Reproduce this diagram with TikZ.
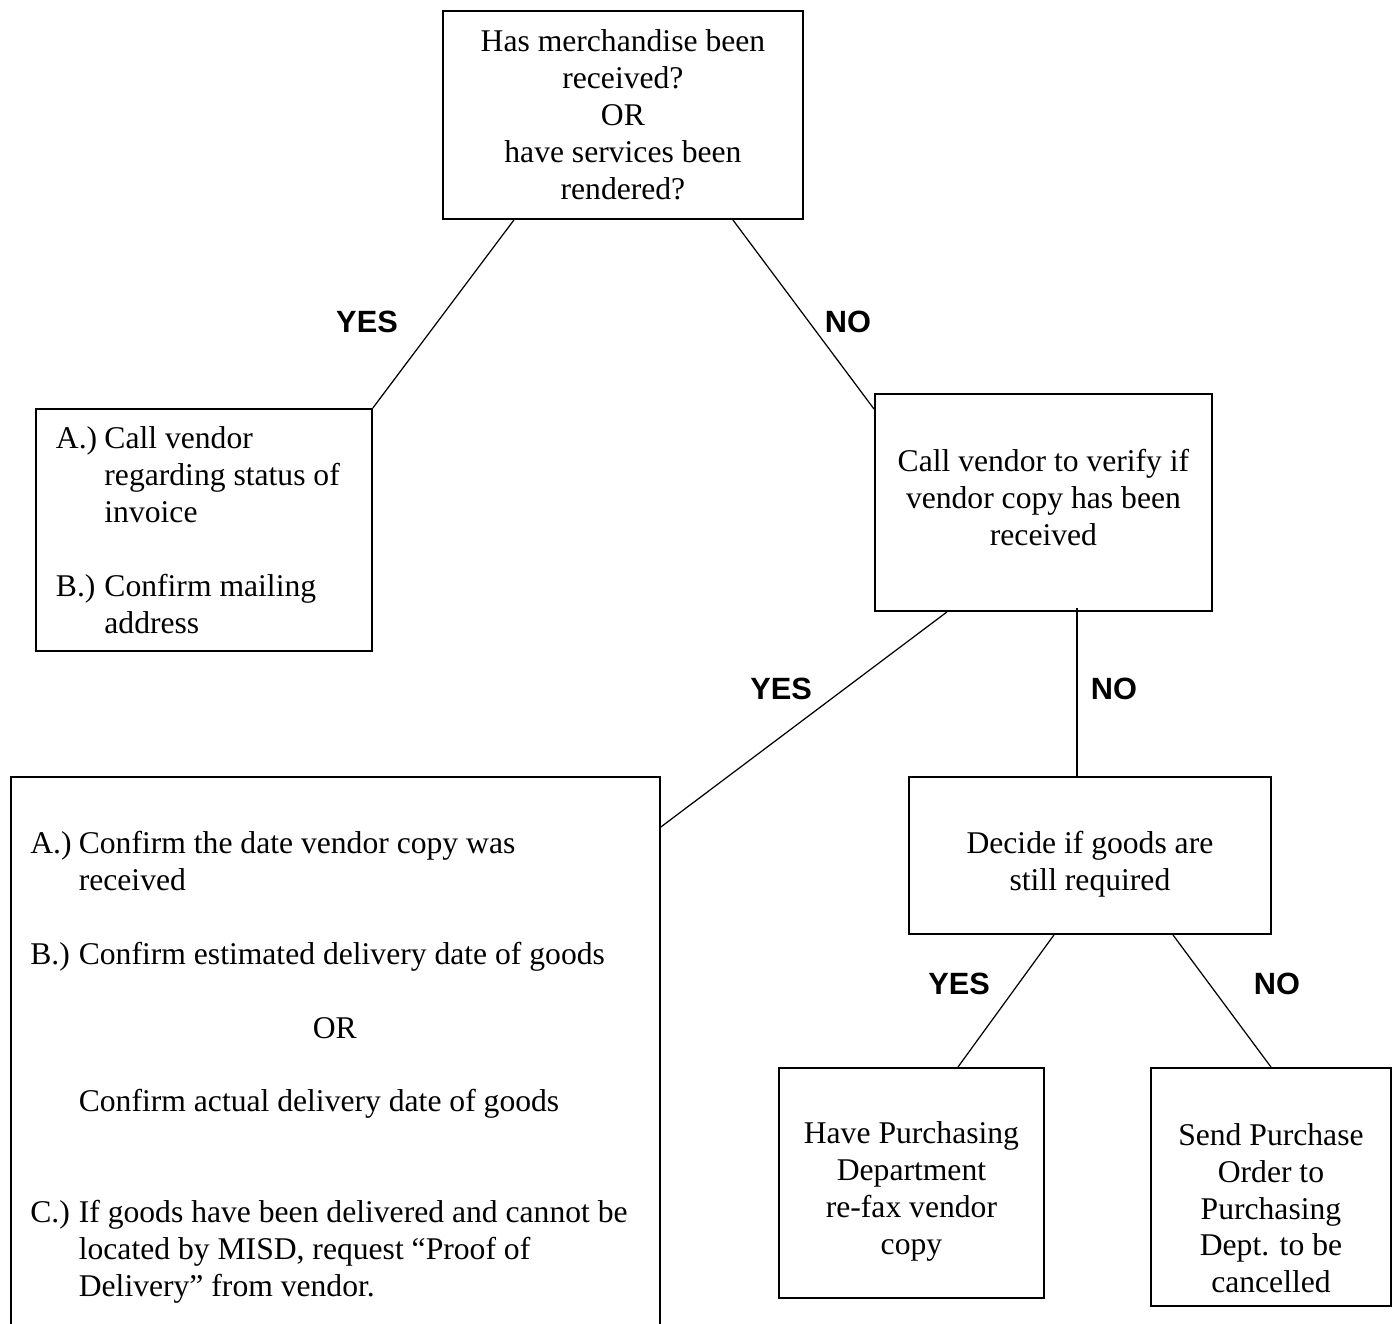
\documentclass[tikz,border=0pt]{standalone}
\usepackage{fontspec}
\setmainfont{Liberation Serif}
\newfontfamily\labelfont{Liberation Sans}
\usetikzlibrary{positioning}
\tikzset{
  txt/.style   ={font=\fontsize{18}{21}\selectfont},
  box/.style   ={txt, draw, line width=1.1pt, anchor=north west, inner sep=0pt, align=center},
  link/.style  ={line width=0.7pt},
  answer/.style={font=\labelfont\bfseries\fontsize{17.5}{21}\selectfont},
}
\newcommand{\lbl}[1]{\makebox[0.97cm][l]{#1}}
\newcommand{\cont}{\hspace*{0.97cm}}
\newcommand{\padtop}[1]{\rule{0pt}{#1}}
\newcommand{\padbot}[1]{\rule[-#1]{0pt}{#1}}

\begin{document}
\begin{tikzpicture}[x=0.02cm, y=-0.02cm]
  \useasboundingbox (0,0) rectangle (1395,1323);

  % ---------- question ----------
  \node[box, minimum width=7.2cm, minimum height=4.16cm] (top) at (442,10)
    {Has merchandise been\\received?\\OR\\have services been\\rendered?};

  % ---------- YES branch ----------
  \node[box, align=flush left, text width=5.92cm, inner xsep=0.4cm,
        minimum width=6.72cm, minimum height=4.84cm] (callbox) at (35,408)
    {\lbl{A.)}Call vendor\\ \cont regarding status of\\ \cont invoice\\[21pt]
     \lbl{B.)}Confirm mailing\\ \cont address};

  % ---------- NO branch ----------
  \node[box, minimum width=6.74cm, minimum height=4.34cm] (verify) at (874,393)
    {Call vendor to verify if\\vendor copy has been\\received\padbot{0.2cm}};

  % big box runs off the bottom of the page
  \node[box, minimum width=12.98cm, minimum height=11.38cm] (delivery) at (10,776) {};
  \node[txt, anchor=north west, align=flush left, text width=12.6cm, inner sep=0pt] (steps)
    at ([xshift=0.4cm, yshift=-1.1cm]delivery.north west)
    {\lbl{A.)}Confirm the date vendor copy was\\ \cont received\\[21pt]
     \lbl{B.)}Confirm estimated delivery date of goods\\[21pt]
     \makebox[12.18cm]{OR}\\[21pt]
     \cont Confirm actual delivery date of goods\\[42pt]
     \lbl{C.)}If goods have been delivered and cannot be\\
     \cont located by MISD, request “Proof of\\
     \cont Delivery” from vendor.};

  \node[box, minimum width=7.24cm, minimum height=3.14cm] (decide) at (908,776)
    {\padtop{0.78cm}Decide if goods are\\still required};
  \node[box, minimum width=5.3cm, minimum height=4.6cm] (refax) at (778,1067)
    {\padtop{0.77cm}Have Purchasing\\Department\\re-fax vendor\\copy};
  \node[box, minimum width=4.8cm, minimum height=4.76cm] (cancel) at (1150,1067)
    {\padtop{1.29cm}Send Purchase\\Order to\\Purchasing\\Dept. to be\\cancelled};

  % ---------- connectors ----------
  \draw[link] ([xshift=1.44cm]top.south west) -- (callbox.north east);
  \draw[link] ([xshift=-1.42cm]top.south east) -- ([yshift=-0.32cm]verify.north west);
  \draw[link] ([xshift=1.46cm]verify.south west) -- ([yshift=-1.02cm]delivery.north east);
  \draw[link] ([xshift=4.06cm, yshift=0.08cm]verify.south west) coordinate (vdown)
    -- (vdown |- decide.north);
  \draw[link] ([xshift=2.92cm]decide.south west) -- ([xshift=3.6cm]refax.north west);
  \draw[link] ([xshift=5.3cm]decide.south west) -- (cancel.north);

  % ---------- answers ----------
  \node[answer] (yesA) at (367,322) {YES};
  \node[answer] (noA)  at (848,322) {NO};
  \node[answer] (yesB) at (781,689) {YES};
  \node[answer] (noB)  at (1114,689) {NO};
  \node[answer] (yesC) at (959,984) {YES};
  \node[answer] (noC)  at (1277,984) {NO};
\end{tikzpicture}
\end{document}
